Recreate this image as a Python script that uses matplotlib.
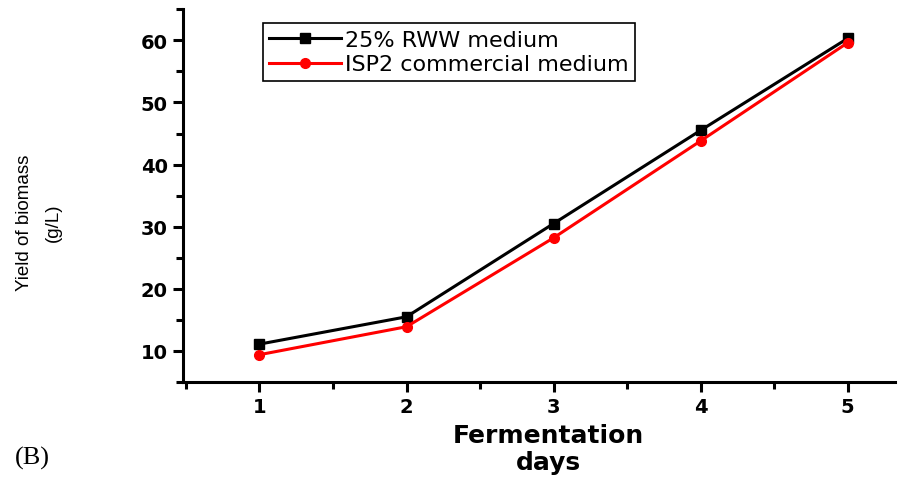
import matplotlib
matplotlib.use('Agg')
import matplotlib.pyplot as plt
from matplotlib.ticker import MultipleLocator

# data
days = [1, 2, 3, 4, 5]
rww = [11.1, 15.5, 30.5, 45.5, 60.3]
isp2 = [9.4, 13.9, 28.2, 43.8, 59.6]
labels = ['25% RWW medium', 'ISP2 commercial medium']

fig = plt.figure(figsize=(9.17, 4.81), dpi=100)
ax = fig.add_axes([0.1996, 0.2037, 0.776, 0.775])

ax.plot(days, rww, '-s', color='black', lw=2.2, ms=7, label=labels[0])
ax.plot(days, isp2, '-o', color='red', lw=2.2, ms=7, label=labels[1])

ax.set_xlim(0.48, 5.32)
ax.set_ylim(5, 65)
ax.xaxis.set_major_locator(MultipleLocator(1))
ax.xaxis.set_minor_locator(MultipleLocator(0.5))
ax.yaxis.set_major_locator(MultipleLocator(10))
ax.yaxis.set_minor_locator(MultipleLocator(5))
ax.set_yticks([10, 20, 30, 40, 50, 60])

for s in ['top', 'right']:
    ax.spines[s].set_visible(False)
for s in ['left', 'bottom']:
    ax.spines[s].set_linewidth(2.2)

ax.tick_params(which='major', direction='out', length=7, width=2.2, pad=4)
ax.tick_params(which='minor', direction='out', length=5, width=2.2)
for t in ax.get_xticklabels() + ax.get_yticklabels():
    t.set_fontfamily('DejaVu Sans')
    t.set_fontweight('heavy')
    t.set_fontsize(14)

ax.set_xlabel('Fermentation\ndays', fontsize=18, fontweight='bold',
              family='DejaVu Sans', linespacing=1.15)
ax.xaxis.set_label_coords(0.513, -0.11)
ax.set_ylabel('Yield of biomass\n(g/L)', fontsize=13.5, family='Liberation Sans',
              linespacing=1.95)
ax.yaxis.set_label_coords(-0.17, 0.43)

leg = ax.legend(loc='upper left', bbox_to_anchor=(0.112, 0.9625),
                handlelength=3.2, handletextpad=0.2, borderpad=0.3,
                borderaxespad=0, labelspacing=0.2, fancybox=False,
                framealpha=1, prop={'family': 'DejaVu Sans', 'size': 16})
leg.get_frame().set_edgecolor('black')
leg.get_frame().set_linewidth(1.2)

fig.text(0.016, 0.035, '(B)', fontsize=19, family='Liberation Serif')

fig.savefig('out.png', dpi=100)
